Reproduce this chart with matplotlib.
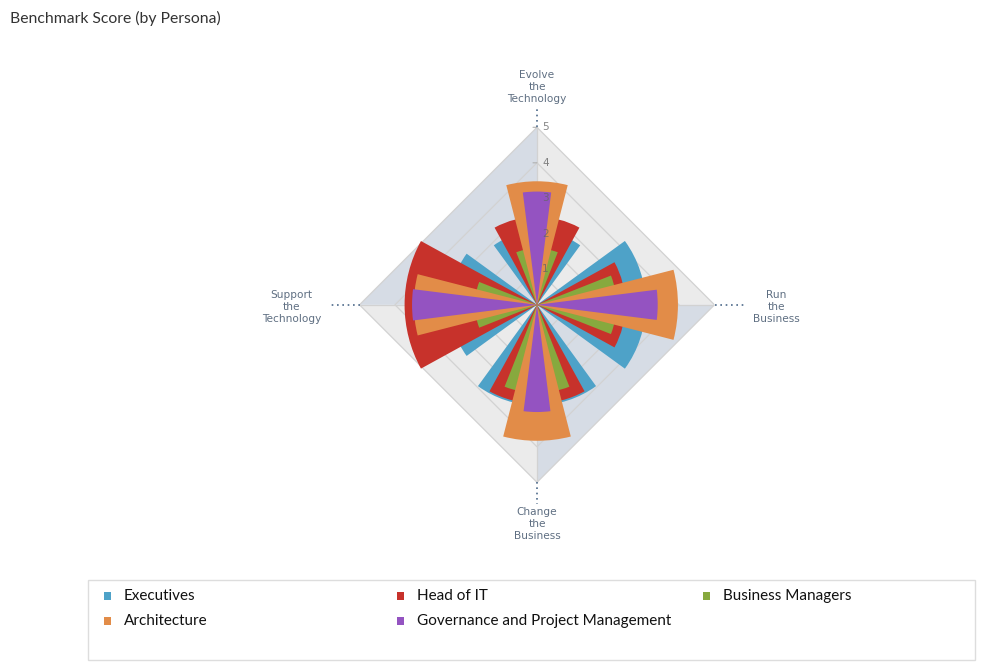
import numpy as np
import matplotlib
matplotlib.use("Agg")
import matplotlib.pyplot as plt
from matplotlib.patches import Rectangle

# categories, clockwise from the top
categorias = ["Evolve\nthe\nTechnology", "Run\nthe\nBusiness",
              "Change\nthe\nBusiness", "Support\nthe\nTechnology"]

# series values (Evolve, Run, Change, Support)
executives = [2.07, 3.06, 2.83, 2.45]
head_of_it = [2.48, 2.49, 2.78, 3.73]
business_managers = [1.59, 2.24, 2.48, 1.75]
architecture = [3.48, 3.97, 3.83, 3.47]
governance = [3.19, 3.40, 3.02, 3.52]

nombres = ["Executives", "Head of IT", "Business Managers",
           "Architecture", "Governance and Project Management"]
valores = [executives, head_of_it, business_managers, architecture, governance]
colores = ["#4ea2c8", "#c7322b", "#87a93e", "#e28c48", "#9453c1"]
anchos_grados = [72, 57.6, 43.2, 28.8, 14.4]  # cada serie mas estrecha

y_ticks = [1, 2, 3, 4, 5]
y_max = 5

fig = plt.figure(figsize=(10, 6.63), dpi=100)
ax = fig.add_axes([0.3595, 0.2725, 0.355, 0.5355], projection="polar")
ax.set_theta_zero_location("N")
ax.set_theta_direction(-1)
ax.set_ylim(0, y_max)
ax.axis("off")

angulos = np.arange(len(categorias)) * 2 * np.pi / len(categorias)

# fondo por cuadrantes
fondos = ["#ebebeb", "#d6dce5", "#ebebeb", "#d6dce5"]
for i, c in enumerate(fondos):
    a0 = angulos[i]
    a1 = a0 + np.pi / 2
    ax.fill([0, a0, a1], [0, y_max, y_max], color=c, lw=0, zorder=0)

# rejilla poligonal
cerrado = np.append(angulos, angulos[0])
for k in y_ticks:
    ax.plot(cerrado, [k] * len(cerrado), color="#d2d2d2", lw=0.9, zorder=1)
for a in angulos:
    ax.plot([a, a], [0, y_max], color="#d2d2d2", lw=0.9, zorder=1)

# barras
for i, (nombre, vals) in enumerate(zip(nombres, valores)):
    ax.bar(angulos, vals, width=np.deg2rad(anchos_grados[i]), color=colores[i],
           edgecolor="none", linewidth=0, zorder=3 + i, label=nombre)

# eje y: marcas y etiquetas
for k in y_ticks:
    ax.annotate("", xy=(0, k), xytext=(-4, 0), textcoords="offset pixels",
                arrowprops=dict(arrowstyle="-", color="#b0b0b0", lw=0.8,
                                shrinkA=0, shrinkB=0), zorder=2)
    ax.annotate(str(k), xy=(0, k), xytext=(5, 0), textcoords="offset pixels",
                ha="left", va="center", fontsize=7.5, color="#666666",
                alpha=0.8, zorder=10)

# etiquetas de categoria con linea punteada
largo_linea = [0.6, 0.9, 0.6, 0.9]
desplaz = [(0, 40), (62, -2), (0, -42), (-68, -2)]
for a, txt, l, d in zip(angulos, categorias, largo_linea, desplaz):
    ax.plot([a, a], [y_max, y_max + l], color="#4d6a8a", lw=1.2,
            linestyle=(0, (1, 2.2)), clip_on=False, zorder=2)
    ax.annotate(txt, xy=(a, y_max), xytext=d, textcoords="offset pixels",
                ha="center", va="center", fontsize=7.6, color="#5f6f82",
                linespacing=1.25, annotation_clip=False)

# titulo
fig.text(0.01, 1 - 18 / 663, "Benchmark Score (by Persona)", fontsize=11.3,
         family="Lato", color="#333333", va="center", ha="left")

# leyenda manual (en filas, como el original)
fig.patches.append(Rectangle((0.088, 0.0045), 0.887, 0.1207, transform=fig.transFigure,
                             facecolor="white", edgecolor="#dddddd", lw=1))
pos_x = [0.107, 0.400, 0.706, 0.107, 0.400]
pos_y = [1 - 596 / 663, 1 - 596 / 663, 1 - 596 / 663, 1 - 621 / 663, 1 - 621 / 663]
for nombre, c, x, y in zip(nombres, colores, pos_x, pos_y):
    fig.patches.append(Rectangle((x - 0.0035, y - 0.0053), 0.007, 0.0106,
                                 transform=fig.transFigure, facecolor=c, lw=0))
    fig.text(x + 0.017, y, nombre, fontsize=11, family="Lato", color="#111111",
             va="center", ha="left")

fig.savefig("out.png", dpi=100)
